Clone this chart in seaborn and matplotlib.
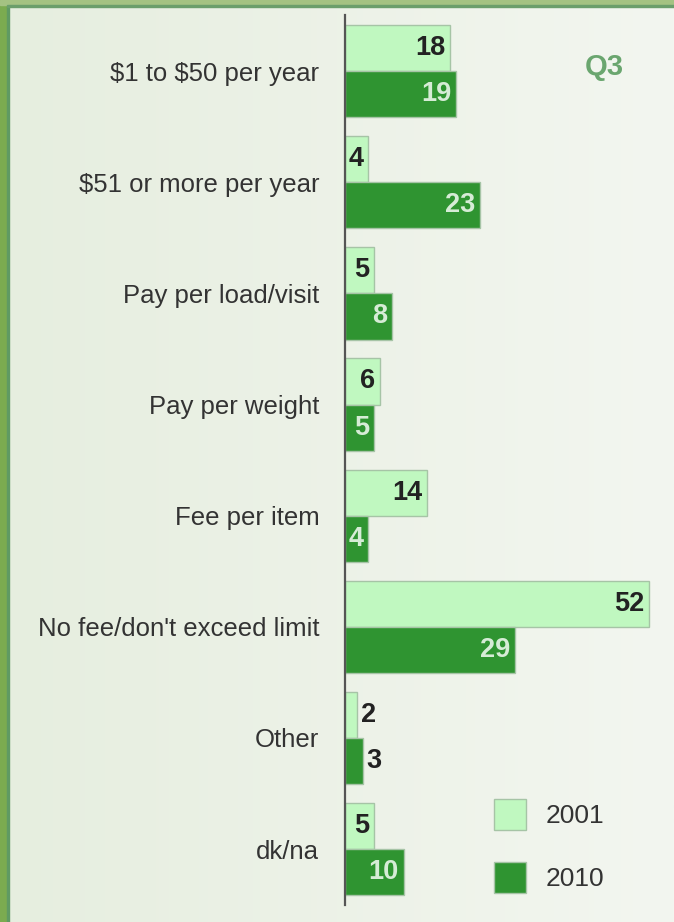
import numpy as np
import pandas as pd
import seaborn as sns
import matplotlib.pyplot as plt
from matplotlib.patches import Rectangle

categories = ["$1 to $50 per year", "$51 or more per year", "Pay per load/visit",
              "Pay per weight", "Fee per item", "No fee/don't exceed limit",
              "Other", "dk/na"]
years = ["2001", "2010"]
vals_2001 = [18, 4, 5, 6, 14, 52, 2, 5]
vals_2010 = [19, 23, 8, 5, 4, 29, 3, 10]

df = pd.DataFrame({
    "category": categories * 2,
    "year": [years[0]] * len(categories) + [years[1]] * len(categories),
    "value": vals_2001 + vals_2010,
})

light = "#c0f8c0"
dark = "#2f9431"

sns.set_style("white")
plt.rcParams["font.family"] = ["Liberation Sans", "DejaVu Sans"]
plt.rcParams["text.parse_math"] = False

W, H = 674, 922
fig = plt.figure(figsize=(W / 100, H / 100), dpi=100)

# background gradient
bg = fig.add_axes([0, 0, 1, 1], zorder=-2)
grad = np.linspace(0, 1, 256)[None, :]
c0 = np.array([0xe6, 0xee, 0xdf]) / 255
c1 = np.array([0xf3, 0xf6, 0xf0]) / 255
img = c0[None, None, :] * (1 - grad[..., None]) + c1[None, None, :] * grad[..., None]
bg.imshow(img, aspect="auto", extent=[0, 1, 0, 1])
bg.axis("off")

# green frame on left and top
fig.patches.append(Rectangle((0, 0), 7 / W, 1, transform=fig.transFigure,
                             color="#7bab50", zorder=-1))
fig.patches.append(Rectangle((7 / W, 0), 2 / W, 1 - 5 / H, transform=fig.transFigure,
                             color="#5f9a63", zorder=-1))
fig.patches.append(Rectangle((0, 1 - 5 / H), 1, 5 / H, transform=fig.transFigure,
                             color="#a4c282", zorder=-1))
fig.patches.append(Rectangle((7 / W, 1 - 7 / H), 1, 2 / H, transform=fig.transFigure,
                             color="#6b9e6b", zorder=-1))

ax = fig.add_axes([345 / W, 1 - 904.6 / H, 329 / W, 889.6 / H])
ax.set_facecolor("none")

sns.barplot(data=df, x="value", y="category", hue="year", hue_order=years,
            palette=[light, dark], width=0.83, edgecolor="#a6c4a6",
            linewidth=1, saturation=1, ax=ax)

ax.set_xlim(0, 329 / 5.855)
ax.set_ylim(7.5, -0.505)
ax.set_xlabel("")
ax.set_ylabel("")
ax.set_xticks([])
sns.despine(ax=ax, top=True, right=True, bottom=True, left=False)
ax.spines["left"].set_color("#555555")
ax.spines["left"].set_linewidth(1.6)
ax.tick_params(axis="y", length=0, pad=18.5, labelsize=18.5, labelcolor="#333333")

# value labels
for ci, cont in enumerate(ax.containers):
    for patch, v in zip(cont.patches, [vals_2001, vals_2010][ci]):
        x_end = patch.get_x() + patch.get_width()
        y_mid = patch.get_y() + patch.get_height() / 2
        if v >= 4:
            col = "#222222" if ci == 0 else "#d6ecd6"
            ax.annotate(str(v), (x_end, y_mid), xytext=(-3.5, 0),
                        textcoords="offset points", ha="right", va="center",
                        fontsize=19.5, fontweight="bold", color=col)
        else:
            ax.annotate(str(v), (x_end, y_mid), xytext=(3, 0),
                        textcoords="offset points", ha="left", va="center",
                        fontsize=19.5, fontweight="bold", color="#222222")

fig.text(604 / W, 1 - 67 / H, "Q3", ha="center", va="center",
         fontsize=21, fontweight="bold", color="#6aa66f")

old = ax.get_legend()
handles = old.legend_handles
labels = [t.get_text() for t in old.get_texts()]
old.remove()
ax.legend(handles, labels, loc="upper left",
          bbox_to_anchor=(494 / W, 1 - 799 / H), bbox_transform=fig.transFigure,
          frameon=False, fontsize=19, handlelength=1.21, handleheight=1.42,
          handletextpad=0.75, labelspacing=1.22, borderpad=0, borderaxespad=0,
          labelcolor="#333333")

fig.savefig("out.png", dpi=100)
